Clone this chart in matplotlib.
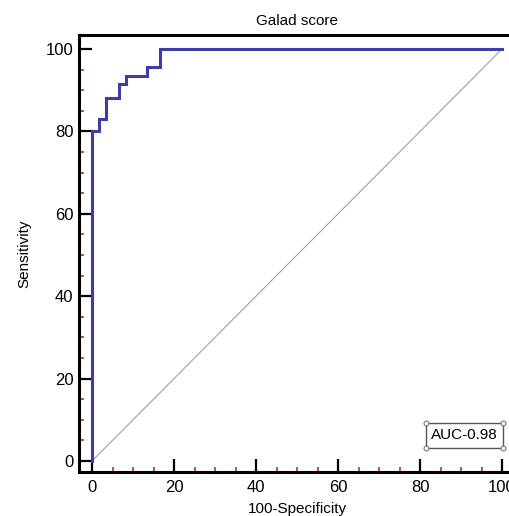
import matplotlib
matplotlib.use("Agg")
import matplotlib.pyplot as plt
from matplotlib.patches import Rectangle
from matplotlib.ticker import MultipleLocator

plt.rcParams['font.family'] = ['Liberation Sans', 'DejaVu Sans']

# ROC step curve (100-Specificity, Sensitivity)
fpr = [0, 0, 1.67, 1.67, 3.33, 3.33, 6.67, 6.67, 8.33, 8.33, 13.33, 13.33, 16.67, 16.67, 100]
tpr = [0, 80, 80, 83, 83, 88, 88, 91.5, 91.5, 93.5, 93.5, 95.7, 95.7, 100, 100]
auc_label = "AUC-0.98"
title = "Galad score"
xlabel = "100-Specificity"
ylabel = "Sensitivity"
ticks = [0, 20, 40, 60, 80, 100]

fig = plt.figure(figsize=(5.10, 5.16), dpi=100)
ax = fig.add_axes([79/510, 44/516, 437/510, 437/516])

ax.plot([0, 100], [0, 100], color='#a0a0a0', lw=0.8, zorder=2)
ax.plot(fpr, tpr, color='#3a3ea6', lw=2.2, zorder=3, solid_joinstyle='miter')

ax.set_xlim(-3.2, 103.4)
ax.set_ylim(-2.7, 103.4)
ax.set_xticks(ticks)
ax.set_yticks(ticks)
ax.xaxis.set_minor_locator(MultipleLocator(5))
ax.yaxis.set_minor_locator(MultipleLocator(5))
ax.tick_params(which='major', direction='in', length=9.5, width=1.6, color='black',
               labelsize=12)
ax.tick_params(which='minor', direction='in', length=3.8, width=1.1, color='#b02020')
ax.tick_params(axis='x', which='major', pad=6)
ax.tick_params(axis='y', which='major', pad=4)
for s in ax.spines.values():
    s.set_linewidth(2.2)

ax.set_title(title, fontsize=11, pad=7)
ax.set_xlabel(xlabel, fontsize=11, labelpad=5)
ax.set_ylabel(ylabel, fontsize=11, labelpad=10)

# AUC box
x0, y0, w, h = 81.5, 3.2, 18.7, 6.0
ax.add_patch(Rectangle((x0, y0), w, h, fill=False, edgecolor='#555555', lw=1.0, zorder=4))
ax.plot([x0, x0 + w, x0, x0 + w], [y0, y0, y0 + h, y0 + h], 'o', ms=3.5,
        mfc='white', mec='#777777', mew=0.8, zorder=5, clip_on=False)
ax.text(x0 + w / 2, y0 + h / 2, auc_label, ha='center', va='center', fontsize=11, zorder=5)

fig.savefig("out.png", dpi=100)
